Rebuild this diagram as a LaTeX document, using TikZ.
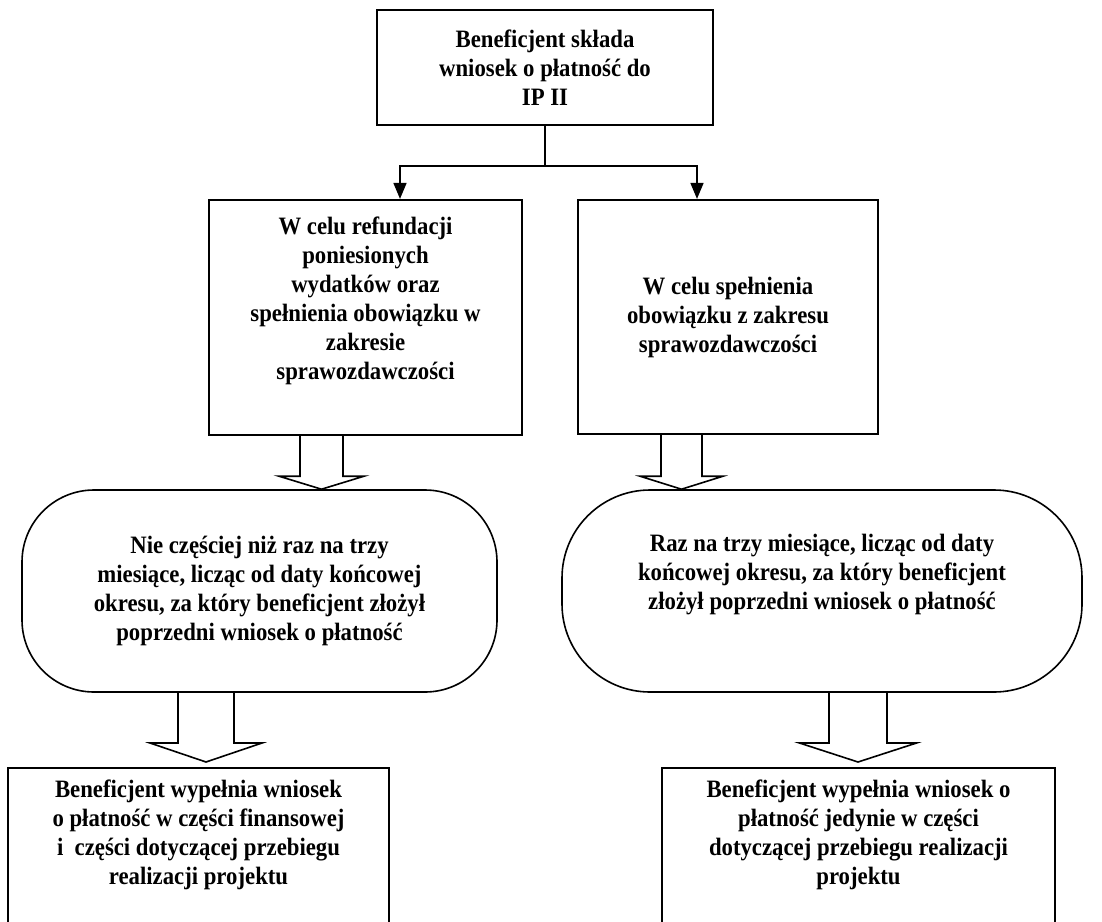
\documentclass[tikz,border=0pt]{standalone}
\usepackage{fontspec}
\setmainfont{Liberation Serif}[FakeStretch=0.91]
\usetikzlibrary{calc,arrows.meta}

\tikzset{
  box/.style={draw,line width=1.1pt,align=center,inner sep=2pt,font=\bfseries\fontsize{12.5}{14.5}\selectfont},
  oval/.style={box,line width=0.8pt,rounded corners=36pt},
  conn/.style={line width=0.8pt},
  hollow/.style={line width=0.8pt,line join=miter}
}

% hollow block arrow: source, target, x offset, half shaft, half head, head length, gap
\newcommand{\fatarrow}[7]{%
  \coordinate (fa-s) at ($(#1.south)+(#3,0)$);
  \coordinate (fa-t0) at (fa-s |- #2.north);
  \coordinate (fa-t) at ($(fa-t0)+(0,-#7)$);
  \draw[hollow] ($(fa-s)+(-#4,0)$) -- ($(fa-t)+(-#4,-#6)$) -- ($(fa-t)+(-#5,-#6)$)
    -- (fa-t) -- ($(fa-t)+(#5,-#6)$) -- ($(fa-t)+(#4,-#6)$) -- ($(fa-s)+(#4,0)$);
}

\begin{document}
\begin{tikzpicture}[x=0.5pt,y=-0.5pt]
\useasboundingbox (0,0) rectangle (1102,921);
\clip (0,0) rectangle (1102,921);

\node [box,minimum width=168pt,minimum height=57.5pt] at (545,67.5) (top)
  {Beneficjent składa\\wniosek o płatność do\\IP II};

\node [box,minimum width=156.5pt,minimum height=117.5pt] at (365.5,317.5) (ml)
  {W celu refundacji\\poniesionych\\wydatków oraz\\spełnienia obowiązku w\\zakresie\\sprawozdawczości\\\strut};

\node [box,minimum width=150pt,minimum height=117pt] at (728,317) (mr)
  {W celu spełnienia\\obowiązku z zakresu\\sprawozdawczości};

\node [oval,minimum width=237.5pt,minimum height=101pt] at (259.5,591) (rl)
  {Nie częściej niż raz na trzy\\miesiące, licząc od daty końcowej\\okresu, za który beneficjent złożył\\poprzedni wniosek o płatność};

\node [oval,rounded corners=44pt,minimum width=260pt,minimum height=101pt] at (822,591) (rr)
  {Raz na trzy miesiące, licząc od daty\\końcowej okresu, za który beneficjent\\złożył poprzedni wniosek o płatność\\\strut};

\node [box,anchor=north,minimum width=190.5pt,minimum height=97pt] at (198.5,767) (bl)
  {Beneficjent wypełnia wniosek\\o płatność w części finansowej\\i~ części dotyczącej przebiegu\\realizacji projektu\\\strut\\\strut};

\node [box,anchor=north,minimum width=196.5pt,minimum height=97pt] at (858.5,767) (br)
  {Beneficjent wypełnia wniosek o\\płatność jedynie w części\\dotyczącej przebiegu realizacji\\projektu\\\strut\\\strut};

\draw [conn] (top.south) -- ++(0,40) coordinate (split);
\draw [conn,-{Triangle[length=8pt,width=6.5pt]}] (split) -| ($(ml.north)+(34.5,0)$);
\draw [conn,-{Triangle[length=8pt,width=6.5pt]}] (split) -| ($(mr.north)+(-31,0)$);

\fatarrow{ml}{rl}{-44}{21.5}{42.5}{13}{0}
\fatarrow{mr}{rr}{-46.5}{20.5}{41.5}{13}{0}
\fatarrow{rl}{bl}{-53.5}{28}{56}{19}{5}
\fatarrow{rr}{br}{36}{29}{58.5}{19}{5}
\end{tikzpicture}
\end{document}
